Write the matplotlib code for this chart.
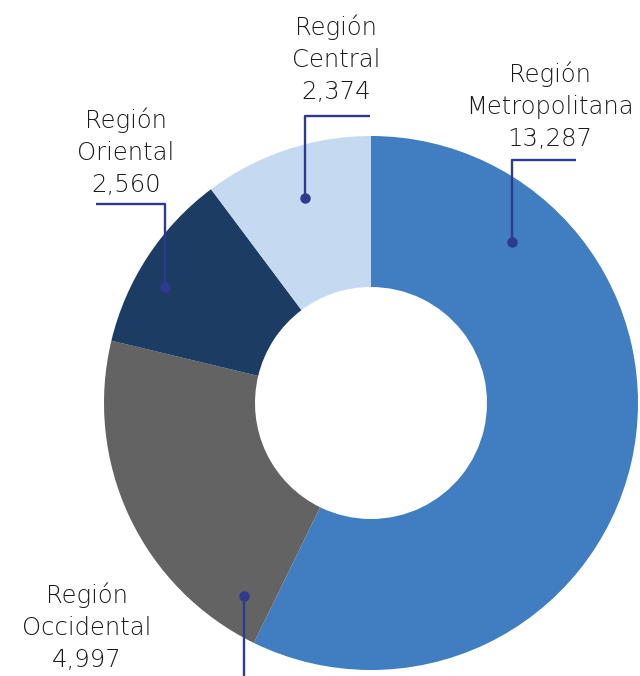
import matplotlib
matplotlib.use("Agg")
import matplotlib.pyplot as plt

# datos
regiones = ["Región Metropolitana", "Región Occidental", "Región Oriental", "Región Central"]
valores = [13287, 4997, 2560, 2374]
colores = ["#407EC1", "#636363", "#1C3C63", "#C5DAF1"]
etiquetas = ["Región\nMetropolitana\n13,287", "Región\nOccidental\n4,997",
             "Región\nOriental\n2,560", "Región\nCentral\n2,374"]

W, H = 640, 676
fig = plt.figure(figsize=(W / 100, H / 100), dpi=100)
ax = fig.add_axes([0, 0, 1, 1])

cx, cy = 371, H - 403
R = 267
ax.pie(valores, colors=colores, startangle=90, counterclock=False,
       center=(cx, cy), radius=R, frame=True,
       wedgeprops=dict(width=R - 116, linewidth=0))
ax.set_xlim(0, W)
ax.set_ylim(0, H)
ax.set_aspect("equal")
ax.axis("off")

linea = "#2E3A8C"
fuente = dict(family=["DejaVu Sans"], fontweight="light",
              fontsize=17.5, color="#1a1a1a", ha="center", va="center",
              linespacing=1.42)

# (texto x, texto y, puntos de la guia) en pixeles de la imagen
guias = [
    (550, 106, [(576, 160), (512, 160), (512, 242)]),
    (87, 627, [(244, 676), (244, 596)]),
    (126, 152, [(96, 204), (165, 204), (165, 287)]),
    (336, 59, [(370, 116), (305, 116), (305, 198)]),
]

for etq, (tx, ty, pts) in zip(etiquetas, guias):
    xs = [p[0] for p in pts]
    ys = [H - p[1] for p in pts]
    ax.plot(xs, ys, color=linea, lw=1.7, solid_capstyle="butt")
    ax.plot(xs[-1], ys[-1], "o", color=linea, ms=6.5)
    ax.text(tx, H - ty, etq, **fuente)

fig.savefig("out.png", dpi=100)
